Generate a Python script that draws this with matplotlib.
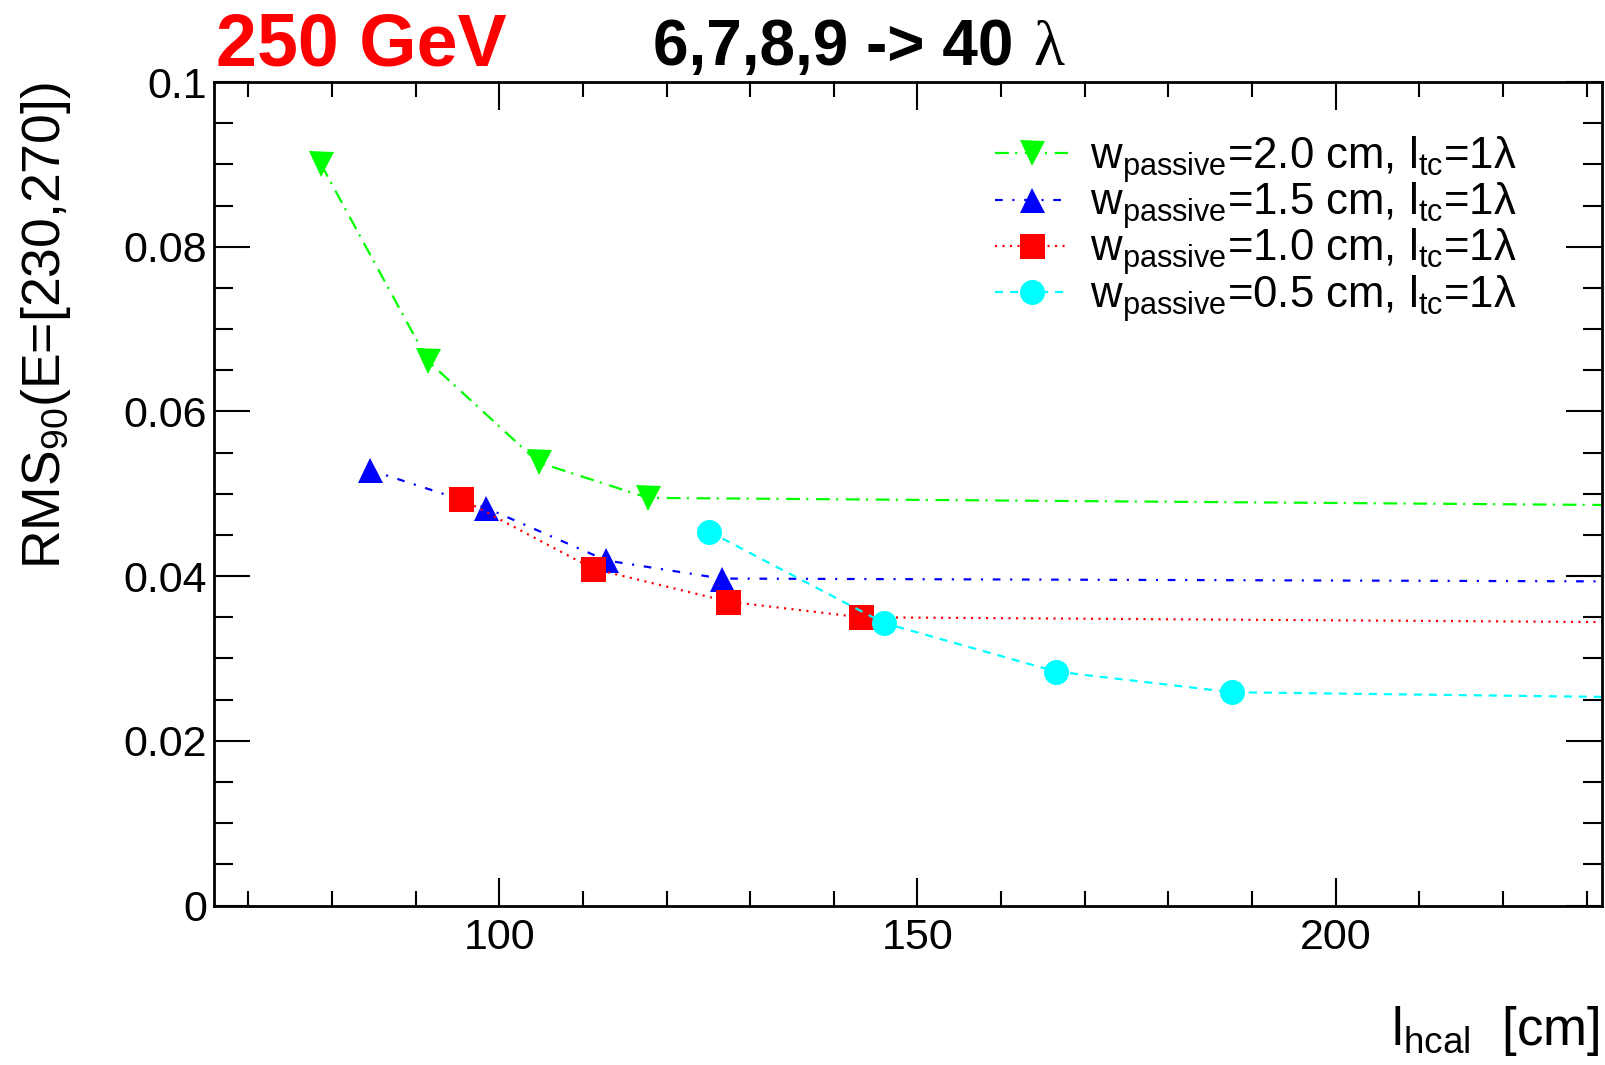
import matplotlib
matplotlib.use('Agg')
import matplotlib.pyplot as plt
from matplotlib.ticker import MultipleLocator, FuncFormatter

plt.rcParams['font.family'] = ['Liberation Sans', 'DejaVu Sans']
plt.rcParams['mathtext.fontset'] = 'custom'
plt.rcParams['mathtext.rm'] = 'Liberation Sans'
plt.rcParams['mathtext.it'] = 'Liberation Sans:italic'
plt.rcParams['mathtext.bf'] = 'Liberation Sans:bold'
plt.rcParams['lines.scale_dashes'] = False

# dane (ostatni punkt poza zakresem osi - linia ucieka w prawo)
x_w20 = [78.7, 91.5, 104.7, 117.8, 250.0]
y_w20 = [0.0900, 0.0661, 0.0538, 0.0495, 0.0485]
x_w15 = [84.5, 98.4, 112.8, 126.6, 250.0]
y_w15 = [0.0529, 0.0483, 0.0419, 0.0397, 0.0393]
x_w10 = [95.4, 111.2, 127.4, 143.2, 250.0]
y_w10 = [0.0494, 0.0409, 0.0369, 0.0350, 0.0343]
x_w05 = [125.1, 146.0, 166.6, 187.6, 250.0]
y_w05 = [0.0454, 0.0343, 0.0284, 0.0259, 0.0251]

labels = [r'w$_{\mathregular{passive}}$=2.0 cm, l$_{\mathregular{tc}}$=1λ',
          r'w$_{\mathregular{passive}}$=1.5 cm, l$_{\mathregular{tc}}$=1λ',
          r'w$_{\mathregular{passive}}$=1.0 cm, l$_{\mathregular{tc}}$=1λ',
          r'w$_{\mathregular{passive}}$=0.5 cm, l$_{\mathregular{tc}}$=1λ']

fig = plt.figure(figsize=(16.06, 10.65), dpi=100)
W, H = 1606, 1065
ax = fig.add_axes([214 / W, 1 - 905.5 / H, (1602.5 - 214) / W, (905.5 - 82) / H])

ms = 18
ax.plot(x_w20, y_w20, color='#00ff00', marker='v', ms=ms, mew=0, lw=1.6,
        ls=(0, (10, 4.5, 1.5, 5.5)), label=labels[0])
ax.plot(x_w15, y_w15, color='#0000ff', marker='^', ms=ms, mew=0, lw=1.6,
        ls=(0, (5.5, 7, 1.5, 7)), label=labels[1])
ax.plot(x_w10, y_w10, color='#ff0000', marker='s', ms=ms, mew=0, lw=1.6,
        ls=(0, (1.5, 3.9)), label=labels[2])
ax.plot(x_w05, y_w05, color='#00ffff', marker='o', ms=ms, mew=0, lw=1.6,
        ls=(0, (5.8, 5)), label=labels[3])

ax.set_xlim(65.9, 231.9)
ax.set_ylim(0, 0.1)

ax.xaxis.set_major_locator(MultipleLocator(50))
ax.xaxis.set_minor_locator(MultipleLocator(10))
ax.yaxis.set_major_locator(MultipleLocator(0.02))
ax.yaxis.set_minor_locator(MultipleLocator(0.005))
ax.yaxis.set_major_formatter(FuncFormatter(lambda v, p: '%g' % round(v, 3)))

for s in ax.spines.values():
    s.set_linewidth(2)
ax.tick_params(axis='both', which='both', direction='in', top=True, right=True, width=1.5)
ax.tick_params(axis='x', which='major', length=20, pad=9, labelsize=31)
ax.tick_params(axis='x', which='minor', length=11)
ax.tick_params(axis='y', which='major', length=26, pad=5, labelsize=31)
ax.tick_params(axis='y', which='minor', length=13.5)

# etykiety osi w stylu ROOT
fig.text(46 / W, 1 - 82 / H, r'RMS$_{90}$(E=[230,270])', rotation=90,
         ha='center', va='top', fontsize=38.5)
fig.text(1600 / W, 1 - 1045 / H, r'l$_{\mathregular{hcal}}$  [cm]',
         ha='right', va='baseline', fontsize=38)

# tytuły nad wykresem
fig.text(216 / W, 1 - 65 / H, '250 GeV', color='red', fontweight='bold',
         fontsize=53, ha='left', va='baseline')
fig.text(653 / W, 1 - 65 / H, '6,7,8,9 -> 40', color='black', fontweight='bold',
         fontsize=46, ha='left', va='baseline')
fig.text(1033 / W, 1 - 65 / H, 'λ', color='black', family=['Liberation Serif', 'DejaVu Serif'],
         fontsize=46, ha='left', va='baseline')

leg = ax.legend(loc='upper left', bbox_to_anchor=(995 / W, 1 - 134 / H),
                bbox_transform=fig.transFigure, frameon=False, fontsize=31.5,
                handlelength=1.67, handletextpad=0.5, labelspacing=-0.107,
                borderpad=0, borderaxespad=0, numpoints=1, markerscale=1.0)

fig.savefig('out.png', dpi=100)
